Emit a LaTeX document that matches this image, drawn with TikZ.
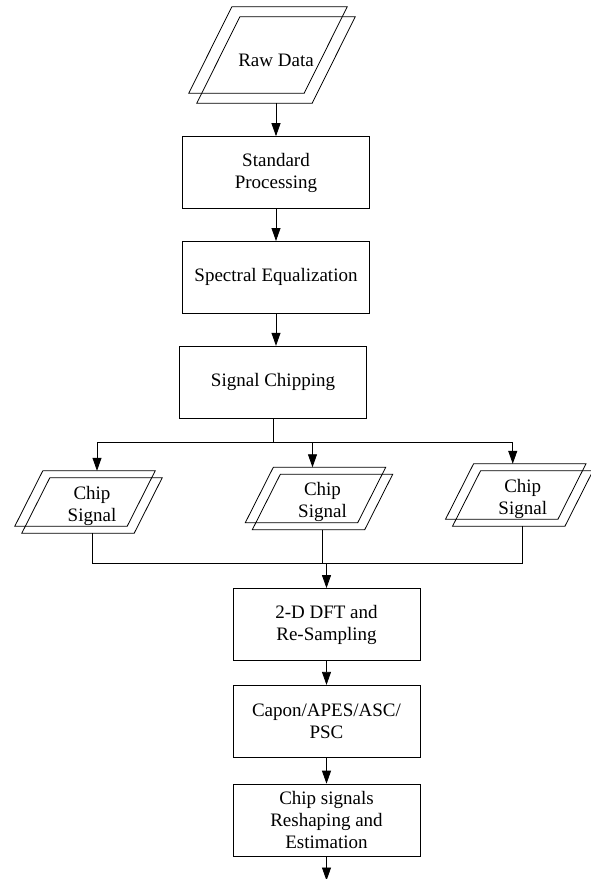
\documentclass[tikz,border=0pt]{standalone}
\usepackage{fontspec}
\setmainfont{Liberation Serif}
\usetikzlibrary{positioning,arrows.meta}

\tikzset{
  txt/.style={font=\fontsize{19}{22}\selectfont, align=center},
  procbox/.style={txt, draw, line width=0.8pt, minimum width=187pt, minimum height=72pt, inner sep=2pt},
  data/.style={txt, inner sep=0pt},
  arr/.style={-{Triangle[length=13pt,width=9pt]}, line width=0.8pt},
  wire/.style={line width=0.8pt},
}

% double parallelogram round a node: name, slant, back dx, back dy
\newcommand{\dataframe}[4]{%
  \draw[wire] ([xshift=#2]#1.north west) -- (#1.north east) -- ([xshift=-#2]#1.south east) -- (#1.south west) -- cycle;
  \draw[wire] ([xshift=#2+#3, yshift=#4]#1.north west) -- ([xshift=#3, yshift=#4]#1.north east)
    -- ([xshift=-#2+#3, yshift=#4]#1.south east) -- ([xshift=#3, yshift=#4]#1.south west) -- cycle;}

\begin{document}
\begin{tikzpicture}[x=1pt, y=-1pt]
  \useasboundingbox (0,0) rectangle (591,879);

  % Define nodes
  \node[data, minimum width=158pt, minimum height=86pt] (raw) at (276,60) {Raw Data};
  \node[procbox, below=33pt of raw]                 (stdproc) {Standard\\Processing};
  \node[procbox, below=32pt of stdproc]             (equal) {Spectral Equalization};
  \node[procbox, below=32pt of equal, xshift=-3pt]  (chipping) {Signal Chipping};

  \node[data, minimum width=140pt, minimum height=55pt] (sig1) at (92,505.5)    {Chip\\Signal};
  \node[data, minimum width=140pt, minimum height=55pt] (sig2) at (322.5,502)   {Chip\\Signal};
  \node[data, minimum width=140pt, minimum height=55pt] (sig3) at (522.75,498.5) {Chip\\Signal};

  \node[procbox] (dft) at (326.5,624.5) {2-D DFT and\\Re-Sampling};
  \node[procbox, below=24pt of dft]   (capon) {Capon/APES/ASC/\\PSC};
  \node[procbox, below=26pt of capon] (estim) {Chip signals\\Reshaping and\\Estimation};

  \dataframe{raw}{43pt}{-8pt}{10pt}
  \dataframe{sig1}{28pt}{-7pt}{7pt}
  \dataframe{sig2}{28pt}{-7pt}{7pt}
  \dataframe{sig3}{28pt}{-7pt}{7pt}

  \coordinate[below=24pt of chipping] (split);
  \coordinate[above=25pt of dft] (merge);
  \coordinate[below=24pt of estim] (out);
  \coordinate (in1) at ([xshift=5pt,yshift=7pt]sig1.north);
  \coordinate (in2) at ([xshift=-10pt,yshift=7pt]sig2.north);
  \coordinate (in3) at ([xshift=-10pt,yshift=7pt]sig3.north);

  % Connect the nodes
  \draw[arr] (raw.south) -- (stdproc);
  \draw[arr] (stdproc) -- (equal);
  \draw[arr] (equal.south) -- (equal.south |- chipping.north);
  \draw[wire] (chipping.south) -- (chipping.south |- split);
  \draw[wire] (split -| in1) -- (split -| in3);
  \draw[arr] (split -| in1) -- (in1);
  \draw[arr] (split -| in2) -- (in2);
  \draw[arr] (split -| in3) -- (in3);
  \draw[wire] (sig1.south) |- (merge -| sig3.south) -- (sig3.south);
  \draw[wire] (sig2.south) -- (sig2.south |- merge);
  \draw[arr] (merge) -- (dft);
  \draw[arr] (dft) -- (capon);
  \draw[arr] (capon) -- (estim);
  \draw[arr] (estim) -- (out);
\end{tikzpicture}
\end{document}
